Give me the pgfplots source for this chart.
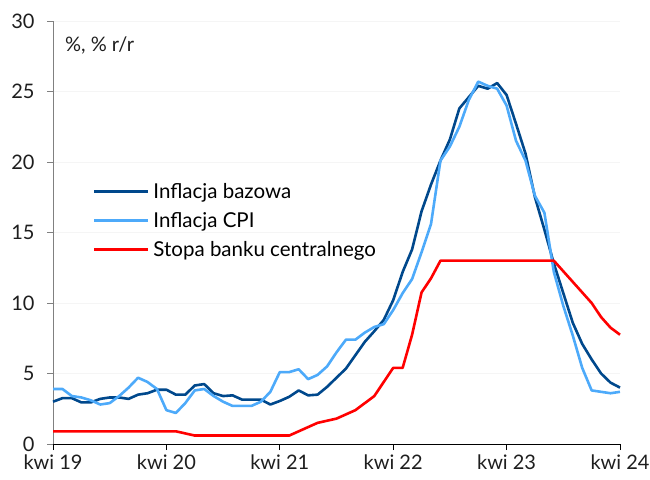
\documentclass[border=0pt]{standalone}
\usepackage{fontspec}
\setmainfont{Lato}
\usepackage{pgfplots}
\pgfplotsset{compat=1.18}
\usepackage{pgfplotstable}
\definecolor{darkb}{RGB}{0,72,140}
\definecolor{lightb}{RGB}{77,170,250}
\definecolor{redl}{RGB}{255,0,0}
\definecolor{tickc}{RGB}{30,30,30}

\pgfplotstableread{
m core cpi rate
0 3.0 3.9 0.9
1 3.25 3.9 0.9
2 3.25 3.4 0.9
3 2.95 3.3 0.9
4 2.95 3.1 0.9
5 3.2 2.8 0.9
6 3.3 2.9 0.9
7 3.3 3.4 0.9
8 3.2 4.0 0.9
9 3.5 4.7 0.9
10 3.6 4.4 0.9
11 3.85 3.9 0.9
12 3.85 2.4 0.9
13 3.5 2.2 0.9
14 3.5 2.9 0.75
15 4.15 3.8 0.6
16 4.25 3.9 0.6
17 3.6 3.4 0.6
18 3.4 3.0 0.6
19 3.45 2.7 0.6
20 3.15 2.7 0.6
21 3.15 2.7 0.6
22 3.15 3.0 0.6
23 2.8 3.7 0.6
24 3.05 5.1 0.6
25 3.35 5.1 0.6
26 3.8 5.3 0.9
27 3.45 4.6 1.2
28 3.5 4.9 1.5
29 4.05 5.5 1.65
30 4.7 6.5 1.8
31 5.35 7.4 2.1
32 6.3 7.4 2.4
33 7.25 7.9 2.9
34 8.0 8.3 3.4
35 8.8 8.5 4.4
36 10.2 9.5 5.4
37 12.2 10.7 5.4
38 13.8 11.7 7.75
39 16.5 13.6 10.75
40 18.4 15.6 11.75
41 20.1 20.1 13
42 21.6 21.1 13
43 23.8 22.5 13
44 24.6 24.4 13
45 25.4 25.7 13
46 25.2 25.4 13
47 25.6 25.2 13
48 24.75 24.0 13
49 22.7 21.5 13
50 20.6 20.1 13
51 17.5 17.6 13
52 15.2 16.4 13
53 12.8 12.2 13
54 10.7 9.8 12.25
55 8.6 7.7 11.5
56 7.1 5.4 10.75
57 6.0 3.8 10.0
58 5.0 3.7 9.0
59 4.35 3.6 8.25
60 4.0 3.7 7.75
}\datatable

\begin{document}
\begin{tikzpicture}
\begin{axis}[
  scale only axis,
  width=567pt, height=423pt,
  xmin=0, xmax=60, ymin=0, ymax=30,
  xtick={0,12,24,36,48,60},
  xticklabels={kwi 19,kwi 20,kwi 21,kwi 22,kwi 23,kwi 24},
  ytick={0,5,10,15,20,25,30},
  axis x line*=bottom,
  axis y line*=left,
  x axis line style={black, line width=0.8pt, -},
  y axis line style={gray, line width=0.8pt, -},
  tick align=outside,
  major tick length=6pt,
  xtick style={black, line width=0.8pt},
  ytick style={gray, line width=0.8pt},
  ymajorgrids,
  grid style={gray!8, line width=0.6pt},
  tick label style={font=\fontsize{20}{22}\selectfont, text=tickc},
  /pgf/number format/assume math mode=true,
  yticklabel style={xshift=-9pt},
  xticklabel style={yshift=-1pt},
  legend style={draw=none, fill=none, at={(rel axis cs:0.07,0.62)}, anchor=north west,
    font=\fontsize{20.5}{22}\selectfont, row sep=10.5pt, inner sep=0pt,
    nodes={inner xsep=4pt, inner ysep=1pt}},
  legend cell align=left,
  legend image code/.code={\draw[#1] (0pt,0pt) -- (54pt,0pt);},
  clip=false,
]
\addplot[darkb, line width=2.6pt, line join=round] table[x=m, y=core] {\datatable};
\addlegendentry{Inflacja bazowa}
\addplot[lightb, line width=2.6pt, line join=round] table[x=m, y=cpi] {\datatable};
\addlegendentry{Inflacja CPI}
\addplot[redl, line width=2.6pt, line join=round] table[x=m, y=rate] {\datatable};
\addlegendentry{Stopa banku centralnego}
\node[anchor=west, font=\fontsize{20}{22}\selectfont, text=tickc, inner sep=0pt] at (rel axis cs:0.021,0.943) {\%, \% r/r};
\end{axis}
\pgfresetboundingbox
\path[use as bounding box] ([xshift=-53pt,yshift=-35pt]current axis.south west) rectangle ([xshift=30pt,yshift=21pt]current axis.north east);
\end{tikzpicture}
\end{document}
